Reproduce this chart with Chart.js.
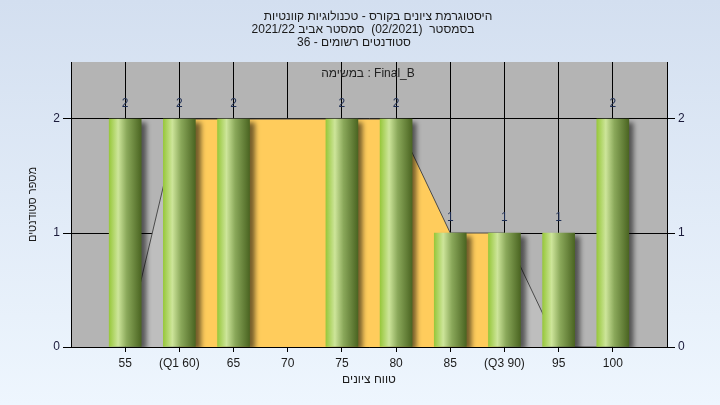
<!DOCTYPE html>
<html>
<head>
<meta charset="utf-8">
<script src="https://cdn.jsdelivr.net/npm/chart.js@4.4.1/dist/chart.umd.min.js"></script>
<style>
  html, body { margin: 0; padding: 0; }
  body { width: 720px; height: 405px; background: linear-gradient(#d3dff0, #eef6fe); }
  #wrap { width: 720px; height: 405px; }
</style>
</head>
<body>
<div id="wrap"><canvas id="chart"></canvas></div>
<script>
// grades histogram data
const categories = [55, 60, 65, 70, 75, 80, 85, 90, 95, 100];
const tickLabels = ["55", "(Q1 60)", "65", "70", "75", "80", "85", "(Q3 90)", "95", "100"];
const counts = [2, 2, 2, 0, 2, 2, 1, 1, 1, 2];
const curve = [0, 2, 2, 2, 2, 2, 1, 1, 0, 0];
const yTicks = [0, 1, 2];
const q1 = 60;
const q3 = 90;

const titleLines = [
  "היסטוגרמת ציונים בקורס - טכנולוגיות קוונטיות",
  "בסמסטר  (02/2021)  סמסטר אביב 2021/22",
  "סטודנטים רשומים - 36"
];
const titleCenters = [378, 363, 354];
const taskLabel = "במשימה : Final_B";
const xTitle = "טווח ציונים";

const FONT = "'Liberation Sans', Arial, sans-serif";

const bgPlugin = {
  id: "bg",
  beforeDraw: function (chart) {
    const a = chart.chartArea;
    const ctx = chart.ctx;
    ctx.save();
    ctx.fillStyle = "#b4b4b4";
    ctx.fillRect(a.left, a.top, a.right - a.left, a.bottom - a.top);
    ctx.restore();
  },
  afterDraw: function (chart) {
    const ctx = chart.ctx;
    const a = chart.chartArea;
    ctx.save();
    ctx.fillStyle = "#1a1a1a";
    ctx.font = "12px " + FONT;
    ctx.textAlign = "center";
    ctx.textBaseline = "middle";
    ctx.direction = "rtl";
    titleLines.forEach(function (t, i) {
      ctx.fillText(t, titleCenters[i], 17 + i * 13);
    });
    ctx.fillText(xTitle, (a.left + a.right) / 2, 380);
    ctx.direction = "ltr";
    ctx.fillStyle = "#222";
    ctx.fillText(taskLabel, 368, a.top + 12);
    ctx.restore();
  }
};

const shadowPlugin = {
  id: "barShadow",
  beforeDatasetDraw: function (chart, args) {
    if (args.meta.type !== "bar") return;
    const ctx = chart.ctx;
    ctx.save();
    ctx.shadowColor = "rgba(0,0,0,0.55)";
    ctx.shadowBlur = 5;
    ctx.shadowOffsetX = 5;
    ctx.shadowOffsetY = 3;
  },
  afterDatasetDraw: function (chart, args) {
    if (args.meta.type !== "bar") return;
    chart.ctx.restore();
  }
};

const valueLabels = {
  id: "valueLabels",
  afterDatasetsDraw: function (chart) {
    const ctx = chart.ctx;
    const meta = chart.getDatasetMeta(0);
    ctx.save();
    ctx.font = "12px " + FONT;
    ctx.fillStyle = "#1f2f55";
    ctx.textAlign = "center";
    ctx.textBaseline = "middle";
    meta.data.forEach(function (el, i) {
      if (!counts[i]) return;
      ctx.fillText(String(counts[i]), el.x, el.y - 15);
    });
    ctx.restore();
  }
};

function barGradient(c) {
  const chart = c.chart;
  if (!chart.chartArea || c.type !== "data") return "#8fb84a";
  const x = chart.scales.x.getPixelForValue(categories[c.dataIndex]);
  const g = chart.ctx.createLinearGradient(x - 16, 0, x + 16, 0);
  g.addColorStop(0, "#98c83c");
  g.addColorStop(0.28, "#cde59a");
  g.addColorStop(0.55, "#8aa85a");
  g.addColorStop(1, "#4b6522");
  return g;
}

const ctx = document.getElementById("chart").getContext("2d");
const myChart = new Chart(ctx, {
  data: {
    datasets: [
      {
        type: "bar",
        label: "count",
        data: categories.map(function (c, i) { return { x: c, y: counts[i] || null }; }),
        backgroundColor: barGradient,
        borderWidth: 0,
        barThickness: 32,
        order: 0
      },
      {
        type: "line",
        label: "curve",
        data: categories.map(function (c, i) { return { x: c, y: curve[i] }; }),
        borderColor: "#4a4a4a",
        borderWidth: 1,
        pointRadius: 0,
        tension: 0,
        fill: "origin",
        backgroundColor: "#bebebe",
        segment: {
          backgroundColor: function (s) {
            return (s.p0.parsed.x >= q1 && s.p1.parsed.x <= q3) ? "#ffcc5c" : "#bebebe";
          }
        },
        order: 1
      }
    ]
  },
  options: {
    responsive: true,
    maintainAspectRatio: false,
    animation: false,
    layout: { padding: { top: 62 } },
    plugins: {
      legend: { display: false },
      tooltip: { enabled: false },
      title: { display: false }
    },
    scales: {
      x: {
        type: "linear",
        min: 50,
        max: 105,
        offset: false,
        afterBuildTicks: function (s) {
          s.ticks = categories.map(function (v) { return { value: v }; });
        },
        afterFit: function (s) { s.height = 58; },
        ticks: {
          autoSkip: false,
          maxRotation: 0,
          padding: 4,
          color: "#1a1a1a",
          font: { family: FONT, size: 12 },
          callback: function (v) {
            const i = categories.indexOf(v);
            return i >= 0 ? tickLabels[i] : "";
          }
        },
        grid: { offset: false, color: "#000", lineWidth: 1, tickLength: 5 },
        border: { display: true, color: "#000" }
      },
      y: {
        position: "left",
        min: 0,
        max: 2.5,
        afterBuildTicks: function (s) {
          s.ticks = yTicks.map(function (v) { return { value: v }; });
        },
        afterFit: function (s) { s.width = 71; },
        ticks: {
          padding: 3,
          color: "#1a1a3a",
          font: { family: FONT, size: 12 }
        },
        grid: { color: "#000", lineWidth: 1, tickLength: 8 },
        border: { display: true, color: "#000" },
        title: {
          display: true,
          text: "מספר סטודנטים",
          color: "#1a1a1a",
          font: { family: FONT, size: 11 },
          padding: { top: 26, bottom: 0 }
        }
      },
      y2: {
        position: "right",
        min: 0,
        max: 2.5,
        afterBuildTicks: function (s) {
          s.ticks = yTicks.map(function (v) { return { value: v }; });
        },
        afterFit: function (s) { s.width = 53; },
        ticks: {
          padding: 3,
          color: "#1a1a3a",
          font: { family: FONT, size: 12 }
        },
        grid: { drawOnChartArea: false, color: "#000", tickLength: 8 },
        border: { display: true, color: "#000" }
      }
    }
  },
  plugins: [bgPlugin, shadowPlugin, valueLabels]
});
</script>
</body>
</html>
